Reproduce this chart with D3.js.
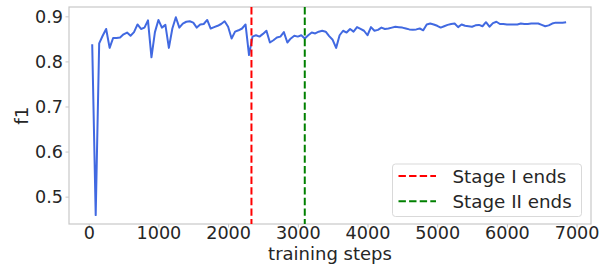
<!DOCTYPE html>
<html><head><meta charset="utf-8">
<script src="https://cdn.jsdelivr.net/npm/d3@7"></script>
<style>body{margin:0;background:#fff}svg{display:block}text{font-family:"DejaVu Sans",sans-serif;fill:#262626}</style>
</head><body><svg id="c" width="611" height="264"></svg>
<script>
const steps = [50,100,150,200,250,300,350,400,450,500,550,600,650,700,750,800,850,900,950,1000,
1050,1100,1150,1200,1250,1300,1350,1400,1450,1500,1550,1600,1650,1700,1750,1800,1850,1900,1950,2000,
2050,2100,2150,2200,2250,2300,2350,2400,2450,2500,2550,2600,2650,2700,2750,2800,2850,2900,2950,3000,
3050,3100,3150,3200,3250,3300,3350,3400,3450,3500,3550,3600,3650,3700,3750,3800,3850,3900,3950,4000,
4050,4100,4150,4200,4250,4300,4350,4400,4450,4500,4550,4600,4650,4700,4750,4800,4850,4900,4950,5000,
5050,5100,5150,5200,5250,5300,5350,5400,5450,5500,5550,5600,5650,5700,5750,5800,5850,5900,5950,6000,
6050,6100,6150,6200,6250,6300,6350,6400,6450,6500,6550,6600,6650,6700,6750,6800,6850];
const f1 = [0.838,0.459,0.840,0.857,0.872,0.830,0.852,0.852,0.853,0.860,0.864,0.857,0.865,0.882,0.872,0.875,0.891,0.809,0.865,0.892,
0.875,0.881,0.830,0.873,0.898,0.875,0.884,0.888,0.889,0.886,0.875,0.882,0.883,0.892,0.873,0.876,0.879,0.883,0.889,0.877,
0.851,0.866,0.869,0.873,0.882,0.814,0.855,0.858,0.855,0.861,0.868,0.842,0.847,0.853,0.855,0.865,0.842,0.851,0.857,0.855,
0.858,0.851,0.858,0.864,0.862,0.866,0.868,0.866,0.856,0.848,0.830,0.858,0.868,0.864,0.872,0.866,0.876,0.872,0.868,0.858,
0.876,0.868,0.870,0.875,0.872,0.873,0.875,0.877,0.876,0.875,0.873,0.871,0.870,0.871,0.873,0.869,0.882,0.884,0.882,0.879,
0.875,0.878,0.881,0.883,0.884,0.876,0.882,0.879,0.878,0.877,0.880,0.881,0.878,0.887,0.877,0.885,0.888,0.883,0.883,0.882,
0.882,0.882,0.882,0.884,0.883,0.883,0.884,0.884,0.884,0.881,0.878,0.880,0.884,0.886,0.886,0.886,0.887];
const stageLines = [{label:"Stage I ends", step:2335, color:"#ff0000"},{label:"Stage II ends", step:3100, color:"#008000"}];
const xTicks = [0,1000,2000,3000,4000,5000,6000,7000];
const yTicks = [0.5,0.6,0.7,0.8,0.9];

const svg = d3.select("#c");
const L=69, R=591, T=7, B=224;
const x = d3.scaleLinear().domain([-283,7207]).range([L,R]);
const y = d3.scaleLinear().domain([0.4393,0.9207]).range([B,T]);
const spine="#c8c8c8";

const xa = svg.append("g").attr("transform",`translate(0,${B})`)
  .call(d3.axisBottom(x).tickValues(xTicks).tickFormat(d3.format("d")).tickSize(3.5).tickSizeOuter(0));
xa.select(".domain").remove();
xa.selectAll("line").attr("stroke",spine);
xa.selectAll("text").attr("font-size","17.6px").attr("dy","0").attr("y",14.5).attr("fill","#262626");
const ya = svg.append("g").attr("transform",`translate(${L},0)`)
  .call(d3.axisLeft(y).tickValues(yTicks).tickFormat(d3.format(".1f")).tickSize(3.5).tickSizeOuter(0));
ya.select(".domain").remove();
ya.selectAll("line").attr("stroke",spine);
ya.selectAll("text").attr("font-size","17.6px").attr("x",-6).attr("dy","0.36em").attr("fill","#262626");

svg.append("rect").attr("x",L).attr("y",T).attr("width",R-L).attr("height",B-T)
  .attr("fill","none").attr("stroke",spine).attr("stroke-width",1.2);

const data = steps.map((s,i)=>[s,f1[i]]);
svg.append("path").datum(data).attr("fill","none").attr("stroke","#4169e1").attr("stroke-width",2)
  .attr("stroke-linejoin","round")
  .attr("d",d3.line().x(d=>x(d[0])).y(d=>y(d[1])));

stageLines.forEach(s=>{
  svg.append("line").attr("x1",x(s.step)).attr("x2",x(s.step)).attr("y1",T).attr("y2",B)
    .attr("stroke",s.color).attr("stroke-width",2).attr("stroke-dasharray","7.4,3.2");
});

// legend
const lg = svg.append("g");
lg.append("rect").attr("x",392.5).attr("y",164).attr("width",189).attr("height",52.5).attr("rx",3)
  .attr("fill","#fff").attr("fill-opacity",0.8).attr("stroke","#d9d9d9");
stageLines.forEach((s,i)=>{
  const yy = 176 + i*25.3;
  lg.append("line").attr("x1",398.5).attr("x2",436).attr("y1",yy).attr("y2",yy)
    .attr("stroke",s.color).attr("stroke-width",2).attr("stroke-dasharray","7.4,3.2");
  lg.append("text").attr("x",452.5).attr("y",yy).attr("dy","0.36em").attr("font-size","18.3px").text(s.label);
});

svg.append("text").attr("x",(L+R)/2).attr("y",259.5).attr("text-anchor","middle").attr("font-size","18px").text("training steps");
svg.append("text").attr("transform",`translate(28,${(T+B)/2}) rotate(-90)`).attr("text-anchor","middle").attr("font-size","18.5px").text("f1");
</script></body></html>
